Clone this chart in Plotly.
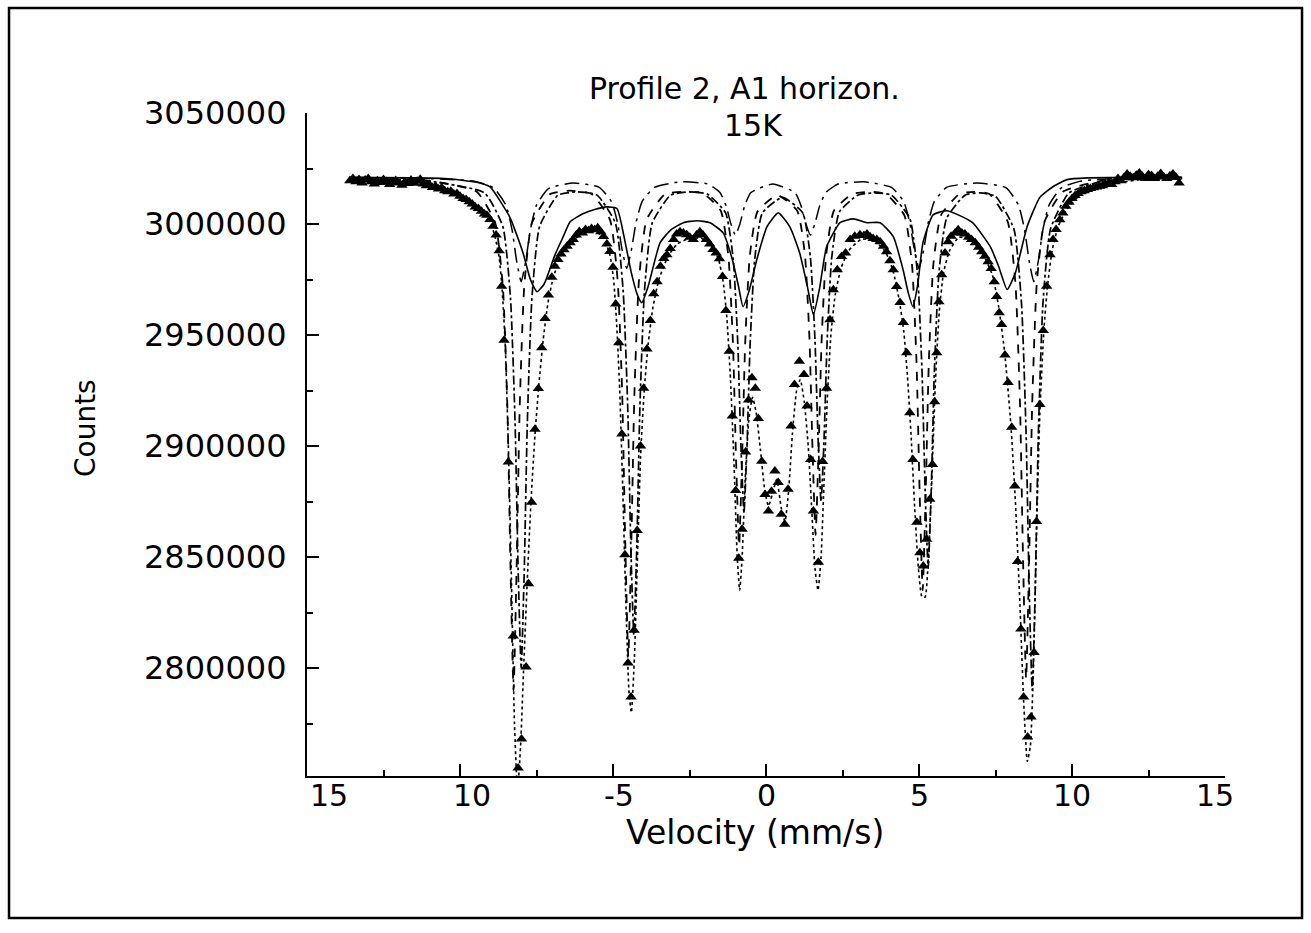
import plotly.graph_objects as go

# ---------------- measured spectrum (triangles) ----------------
velocity = [
    -13.6, -13.5, -13.4, -13.3, -13.2, -13.1, -13.0, -12.9, -12.8, -12.7,
    -12.6, -12.5, -12.4, -12.3, -12.2, -12.1, -12.0, -11.9, -11.8, -11.7,
    -11.6, -11.5, -11.4, -11.3, -11.2, -11.1, -11.0, -10.9, -10.8, -10.7,
    -10.6, -10.5, -10.4, -10.3, -10.2, -10.1, -10.0, -9.9, -9.8, -9.7,
    -9.6, -9.5, -9.4, -9.3, -9.2, -9.12, -9.02, -8.92, -8.82, -8.72,
    -8.64, -8.56, -8.42, -8.26, -8.1, -7.99, -7.84, -7.76, -7.66, -7.55,
    -7.44, -7.33, -7.22, -7.11, -7.0, -6.9, -6.8, -6.7, -6.6, -6.5,
    -6.4, -6.3, -6.2, -6.1, -6.0, -5.9, -5.8, -5.7, -5.6, -5.5,
    -5.4, -5.31, -5.2, -5.1, -5.0, -4.91, -4.81, -4.71, -4.61, -4.51,
    -4.41, -4.31, -4.21, -4.1, -4.0, -3.89, -3.78, -3.67, -3.56, -3.45,
    -3.34, -3.24, -3.13, -3.02, -2.92, -2.81, -2.7, -2.59, -2.49, -2.38,
    -2.27, -2.16, -2.06, -1.95, -1.84, -1.73, -1.63, -1.52, -1.42, -1.31,
    -1.2, -1.1, -0.99, -0.89, -0.78, -0.67, -0.57, -0.46, -0.35, -0.25,
    -0.14, -0.03, 0.08, 0.18, 0.29, 0.4, 0.5, 0.61, 0.72, 0.82,
    0.93, 1.09, 1.24, 1.34, 1.46, 1.55, 1.71, 1.85, 1.98, 2.09,
    2.2, 2.33, 2.47, 2.6, 2.75, 2.9, 3.07, 3.2, 3.3, 3.4,
    3.5, 3.62, 3.73, 3.84, 3.94, 4.05, 4.16, 4.27, 4.38, 4.49,
    4.6, 4.7, 4.8, 4.93, 5.03, 5.14, 5.25, 5.35, 5.44, 5.58,
    5.51, 5.65, 5.74, 5.85, 5.95, 6.05, 6.18, 6.28, 6.4, 6.5,
    6.62, 6.72, 6.84, 6.95, 7.05, 7.15, 7.26, 7.36, 7.46, 7.54,
    7.62, 7.7, 7.81, 7.91, 8.03, 8.13, 8.22, 8.33, 8.42, 8.55,
    8.66, 8.76, 8.84, 8.95, 9.06, 9.17, 9.28, 9.38, 9.48, 9.6,
    9.7, 9.8, 9.9, 10.0, 10.1, 10.2, 10.3, 10.4, 10.5, 10.6,
    10.7, 10.8, 10.9, 11.0, 11.1, 11.2, 11.3, 11.4, 11.5, 11.6,
    11.7, 11.8, 11.9, 12.0, 12.1, 12.2, 12.3, 12.4, 12.5, 12.6,
    12.7, 12.8, 12.9, 13.0, 13.1, 13.2, 13.3, 13.4, 13.5,
]
counts = [
    3019500, 3020500, 3019000, 3020000, 3018500, 3019800, 3020500, 3019000, 3018000, 3019500,
    3018700, 3020000, 3019200, 3017800, 3018800, 3019600, 3018500, 3017500, 3019000, 3018200,
    3019800, 3018400, 3019300, 3020200, 3018000, 3017200, 3017800, 3016500, 3017000, 3015800,
    3016300, 3015000, 3014500, 3014800, 3013500, 3013800, 3012500, 3011500, 3011000, 3010000,
    3009000, 3007700, 3007000, 3005800, 3004500, 3004000, 3002000, 2999000, 2995000, 2988000,
    2972000, 2947700, 2892800, 2814400, 2755000, 2768100, 2800500, 2838000, 2874700, 2907600,
    2925900, 2944300, 2957400, 2968000, 2976000, 2981000, 2984000, 2986500, 2988400, 2990000,
    2991600, 2993000, 2995000, 2996600, 2996000, 2997500, 2997000, 2998000, 2997400, 2998300,
    2996500, 2994400, 2991000, 2987600, 2980500, 2964000, 2946500, 2905400, 2851000, 2802300,
    2787000, 2817000, 2862000, 2900000, 2926000, 2943700, 2956500, 2968600, 2974000, 2981000,
    2984500, 2986200, 2989000, 2993000, 2995500, 2996500, 2996000, 2995200, 2994000, 2993000,
    2995000, 2996500, 2995000, 2993000, 2991000, 2988500, 2987000, 2984400, 2976400, 2961000,
    2942700, 2913500, 2880000, 2849500, 2862500, 2897300, 2920700, 2930800, 2926000, 2912400,
    2893200, 2878200, 2870700, 2879700, 2888800, 2883600, 2869300, 2864800, 2880500, 2909000,
    2927700, 2938200, 2932200, 2918000, 2894000, 2870700, 2847700, 2893000, 2926000, 2956900,
    2970400, 2979400, 2985400, 2987000, 2993000, 2994500, 2995200, 2994800, 2995500, 2994300,
    2993500, 2993000, 2992000, 2990000, 2987500, 2983500, 2979400, 2971900, 2964600, 2955600,
    2942000, 2915000, 2894000, 2865700, 2852000, 2846000, 2858000, 2876000, 2891700, 2942000,
    2920000, 2965000, 2977200, 2987000, 2992000, 2994500, 2996000, 2997400, 2996000, 2995500,
    2994000, 2993000, 2991600, 2989500, 2987500, 2985500, 2983000, 2980000, 2974000, 2967400,
    2960000, 2954700, 2941000, 2928600, 2908500, 2882000, 2848000, 2817600, 2787000, 2769000,
    2778000, 2807000, 2866000, 2918700, 2952000, 2972000, 2986200, 2993000, 2997500, 3001900,
    3005000, 3008000, 3009800, 3011500, 3012800, 3013800, 3014500, 3015000, 3015500, 3016000,
    3016300, 3016700, 3017000, 3017200, 3017800, 3018500, 3017800, 3019000, 3020500, 3019500,
    3021000, 3022500, 3021500, 3020800, 3022000, 3023000, 3021500, 3020500, 3022300, 3021800,
    3020500, 3021500, 3022800, 3021200, 3020500, 3021700, 3022500, 3021000, 3018500,
]

# ---------------- total fit (dotted) ----------------
fit_v = [-13.6, -12.5, -11.5, -11.0, -10.5, -10.0, -9.5, -9.2, -9.0, -8.85, -8.72, -8.62, -8.52,
         -8.42, -8.32, -8.22, -8.12, -8.02, -7.92, -7.8, -7.68, -7.55, -7.42, -7.28, -7.12, -6.95,
         -6.7, -6.4, -6.0, -5.6, -5.3, -5.1, -4.98, -4.88, -4.78, -4.68, -4.58, -4.48, -4.4, -4.3,
         -4.2, -4.1, -3.98, -3.85, -3.7, -3.5, -3.2, -2.9, -2.5, -2.1, -1.8, -1.55, -1.4, -1.28,
         -1.16, -1.04, -0.94, -0.86, -0.78, -0.68, -0.56, -0.44, -0.32, -0.18, -0.04, 0.08, 0.2,
         0.35, 0.5, 0.62, 0.74, 0.86, 1.0, 1.12, 1.25, 1.38, 1.5, 1.6, 1.7, 1.8, 1.9, 2.0, 2.12,
         2.26, 2.45, 2.7, 3.1, 3.5, 3.9, 4.15, 4.35, 4.5, 4.62, 4.74, 4.86, 4.98, 5.1, 5.2, 5.3,
         5.42, 5.54, 5.66, 5.8, 6.0, 6.3, 6.7, 7.1, 7.4, 7.6, 7.8, 8.0, 8.15, 8.3, 8.42, 8.54,
         8.64, 8.74, 8.84, 8.95, 9.08, 9.2, 9.35, 9.55, 9.85, 10.3, 10.8, 11.5, 12.5, 13.6]
fit_c = [3020200, 3019800, 3019000, 3018000, 3016000, 3013000, 3008500, 3004500, 3000500, 2994000,
         2985000, 2970000, 2945000, 2900000, 2840000, 2775000, 2745000, 2765000, 2800000, 2840000,
         2875000, 2905000, 2928000, 2948000, 2965000, 2976000, 2985500, 2991500, 2995500, 2997000,
         2993500, 2986000, 2975000, 2955000, 2925000, 2880000, 2830000, 2790000, 2780000, 2805000,
         2850000, 2895000, 2925000, 2946000, 2962000, 2975000, 2985500, 2991000, 2993500, 2993500,
         2990500, 2984000, 2974000, 2958000, 2930000, 2890000, 2850000, 2835000, 2850000, 2885000,
         2912000, 2922000, 2915000, 2898000, 2880000, 2873000, 2878000, 2885000, 2872000, 2866000,
         2880000, 2905000, 2925000, 2930000, 2920000, 2900000, 2870000, 2845000, 2835000, 2850000,
         2885000, 2920000, 2950000, 2968000, 2980000, 2988000, 2993000, 2993000, 2987500, 2979000,
         2966000, 2952000, 2932000, 2905000, 2872000, 2845000, 2832000, 2832000, 2848000, 2885000,
         2930000, 2960000, 2978000, 2988000, 2994000, 2993000, 2986000, 2977000, 2963000, 2942000,
         2910000, 2875000, 2828000, 2785000, 2758000, 2765000, 2800000, 2860000, 2915000, 2952000,
         2972000, 2988000, 2999000, 3007000, 3013500, 3016500, 3018500, 3020500, 3021000]

# ---------------- sharp sextet 1 (dashed) ----------------
sx1_v = [-13.6, -11.0, -9.45, -8.85, -8.6, -8.45, -8.35, -8.25, -8.15, -8.05, -7.9, -7.65, -7.05,
         -6.4, -5.7, -5.1, -4.85, -4.7, -4.6, -4.5, -4.4, -4.3, -4.15, -3.9, -3.3, -2.7, -2.08,
         -1.48, -1.23, -1.08, -0.98, -0.88, -0.78, -0.68, -0.53, -0.28, 0.37, 1.02, 1.27, 1.42,
         1.52, 1.62, 1.72, 1.82, 1.97, 2.22, 2.82, 3.4, 3.92, 4.52, 4.77, 4.92, 5.02, 5.12, 5.22,
         5.32, 5.47, 5.72, 6.32, 6.8, 7.3, 7.9, 8.15, 8.3, 8.4, 8.5, 8.6, 8.7, 8.85, 9.1, 9.7,
         11.0, 13.6]
sx1_c = [3020600, 3019500, 3014500, 3000500, 2972000, 2917000, 2845400, 2790000, 2845400, 2917000,
         2972000, 3000500, 3013500, 3015000, 3013500, 3002000, 2975000, 2923800, 2856800, 2805000,
         2856800, 2923800, 2975000, 3002000, 3013500, 3014500, 3014000, 3006000, 2985500, 2946300,
         2894800, 2855000, 2894800, 2946300, 2985500, 3005500, 3013000, 3006000, 2986500, 2948550,
         2898600, 2860000, 2898600, 2948550, 2986500, 3006000, 3013500, 3014500, 3013500, 3004000,
         2981900, 2937300, 2879600, 2835000, 2879600, 2937300, 2981900, 3004000, 3013500, 3014500,
         3013500, 3001000, 2973500, 2919300, 2849200, 2795000, 2849200, 2919300, 2973500, 3001000,
         3014500, 3019500, 3020600]

# ---------------- sharp sextet 2 (dash-dot) ----------------
sx2_v = [-13.6, -11.0, -9.2, -8.6, -8.35, -8.2, -8.1, -8.0, -7.9, -7.8, -7.65, -7.4, -6.8, -6.16,
         -5.52, -4.92, -4.67, -4.52, -4.42, -4.32, -4.22, -4.12, -3.97, -3.72, -3.12, -2.5, -1.92,
         -1.32, -1.07, -0.92, -0.82, -0.72, -0.62, -0.52, -0.37, -0.12, 0.54, 1.2, 1.45, 1.6, 1.7,
         1.8, 1.9, 2.0, 2.15, 2.4, 3.0, 3.55, 4.1, 4.7, 4.95, 5.1, 5.2, 5.3, 5.4, 5.5, 5.65, 5.9,
         6.5, 7.0, 7.5, 8.1, 8.35, 8.5, 8.6, 8.7, 8.8, 8.9, 9.05, 9.3, 9.9, 11.0, 13.6]
sx2_c = [3020600, 3019300, 3014000, 2998900, 2966600, 2910500, 2844200, 2800000, 2844200, 2910500,
         2966600, 2998900, 3013000, 3014500, 3013000, 3000400, 2970300, 2918000, 2856200, 2815000,
         2856200, 2918000, 2970300, 3000400, 3013000, 3014500, 3013500, 3005000, 2983900, 2945500,
         2900200, 2870000, 2900200, 2945500, 2983900, 3005000, 3012000, 3005000, 2985100, 2948000,
         2904200, 2875000, 2904200, 2948000, 2985100, 3005500, 3013000, 3014000, 3013000, 3002500,
         2977700, 2933000, 2880200, 2845000, 2880200, 2933000, 2977700, 3002500, 3013000, 3014000,
         3012500, 2997900, 2964200, 2905500, 2836200, 2790000, 2836200, 2905500, 2964200, 2997900,
         3014000, 3019300, 3020600]

# ---------------- weak sextet (long dash-dot) ----------------
sx3_v = [-13.6, -10.5, -9.5, -8.9, -8.5, -8.3, -8.15, -8.0, -7.85, -7.7, -7.5, -7.1, -6.3, -5.45,
         -5.05, -4.85, -4.7, -4.55, -4.4, -4.25, -4.05, -3.65, -2.8, -1.9, -1.5, -1.3, -1.15, -1.0,
         -0.85, -0.7, -0.5, 0.22, 0.95, 1.15, 1.3, 1.45, 1.6, 1.75, 1.95, 2.35, 3.2, 4.1, 4.5, 4.7,
         4.85, 5.0, 5.15, 5.3, 5.5, 5.9, 6.9, 7.85, 8.25, 8.45, 8.6, 8.75, 8.9, 9.05, 9.25, 9.65,
         10.25, 11.0, 13.6]
sx3_c = [3021000, 3020200, 3019200, 3016300, 3008500, 2997500, 2983400, 2974000, 2983400, 2997500,
         3008500, 3016000, 3018500, 3016500, 3010100, 3000500, 2988200, 2980000, 2988200, 3000500,
         3010100, 3016500, 3019000, 3018000, 3014100, 3008000, 3000200, 2995000, 3000200, 3008000,
         3014100, 3018000, 3014100, 3008000, 3000200, 2995000, 3000200, 3008000, 3014100, 3018000,
         3019000, 3016500, 3010100, 3000500, 2988200, 2980000, 2988200, 3000500, 3010100, 3016500,
         3018500, 3016300, 3008500, 2997500, 2983400, 2974000, 2983400, 2997500, 3008500, 3016300,
         3019200, 3020200, 3021000]

# ---------------- broad distribution (solid) ----------------
broad_v = [-13.6, -10.5, -9.45, -9.02, -8.37, -7.94, -7.7, -7.48, -7.25, -6.9, -6.63, -6.4, -6.0,
           -5.6, -5.2, -4.87, -4.65, -4.4, -4.2, -4.06, -3.85, -3.46, -3.1, -2.7, -2.25, -1.83,
           -1.4, -1.1, -0.9, -0.75, -0.55, -0.3, 0.03, 0.4, 0.78, 1.1, 1.35, 1.55, 1.75, 1.98,
           2.42, 2.85, 3.3, 3.73, 4.16, 4.48, 4.65, 4.8, 4.95, 5.13, 5.46, 5.9, 6.3, 6.76, 7.32,
           7.6, 7.88, 8.15, 8.53, 8.95, 9.4, 9.84, 10.5, 13.6]
broad_c = [3021000, 3020500, 3018800, 3016700, 3003000, 2987000, 2975000, 2969500, 2973000, 2986000,
           2994200, 3001000, 3004500, 3006500, 3007700, 3007000, 2995000, 2978000, 2968000, 2964600,
           2972000, 2991600, 2997500, 3000600, 3001500, 3000600, 2996000, 2984000, 2972000, 2962800,
           2970000, 2984000, 2998700, 3005000, 2998700, 2987000, 2972000, 2959200, 2971000, 2989700,
           3000600, 3002300, 3000600, 3000600, 2994300, 2979400, 2969000, 2962800, 2972000, 2991600,
           3004100, 3006000, 3004000, 3000500, 2990000, 2981000, 2970500, 2978000, 2998700, 3012000,
           3017000, 3020000, 3020800, 3021000]

# ---------------- axes ----------------
x_tick_vals = [-15, -10, -5, 0, 5, 10, 15]
x_tick_text = ["15", "10", "-5", "0", "5", "10", "15"]
x_tick_shift = [22, 12, 6, 0, 0, 0, -10]
x_minor_vals = [-12.5, -7.5, -2.5, 2.5, 7.5, 12.5]
y_tick_vals = [2800000, 2850000, 2900000, 2950000, 3000000, 3050000]
y_minor_vals = [2775000, 2825000, 2875000, 2925000, 2975000, 3025000]
y_range = [2751400, 3050000]

title_lines = ["Profile 2, A1 horizon.", "15K"]
x_title = "Velocity (mm/s)"
y_title = "Counts"

FONT = "DejaVu Sans"
fig = go.Figure()

def curve(xv, yv, dash, width=1.7):
    fig.add_trace(go.Scatter(x=xv, y=yv, mode="lines",
                             line=dict(color="black", width=width, dash=dash,
                                       shape="spline", smoothing=0.5),
                             hoverinfo="skip"))

curve(broad_v, broad_c, "solid", 1.6)
curve(sx3_v, sx3_c, "longdashdot", 1.5)
curve(sx2_v, sx2_c, "dashdot", 1.7)
curve(sx1_v, sx1_c, "dash", 1.8)
curve(fit_v, fit_c, "dot", 1.6)

fig.add_trace(go.Scatter(x=velocity, y=counts, mode="markers",
                         marker=dict(symbol="triangle-up", size=10, color="black",
                                     line=dict(width=0))))

fig.update_layout(
    width=1311, height=933,
    margin=dict(l=307, r=86, t=113, b=157),
    paper_bgcolor="white", plot_bgcolor="white",
    showlegend=False,
    font=dict(family=FONT, color="black"),
)
fig.update_xaxes(
    range=[-15, 15], tickvals=x_tick_vals, showticklabels=False,
    ticks="inside", ticklen=12, tickwidth=1.6, tickcolor="black",
    showline=True, linecolor="black", linewidth=2.2,
    showgrid=False, zeroline=False,
    minor=dict(tickvals=x_minor_vals, ticks="inside", ticklen=6,
               tickwidth=1.6, tickcolor="black", showgrid=False),
)
fig.update_yaxes(
    range=y_range, tickvals=y_tick_vals, ticktext=[str(v) for v in y_tick_vals],
    ticks="inside", ticklen=12, tickwidth=1.6, tickcolor="black",
    showline=True, linecolor="black", linewidth=2.2,
    showgrid=False, zeroline=False,
    tickfont=dict(size=32, family=FONT), ticklabelstandoff=12,
    minor=dict(tickvals=y_minor_vals, ticks="inside", ticklen=6,
               tickwidth=1.6, tickcolor="black", showgrid=False),
)

# x tick labels (placed as text just under the axis, like the reference)
for xv, txt, sh in zip(x_tick_vals, x_tick_text, x_tick_shift):
    fig.add_annotation(text=txt, xref="x", yref="paper", x=xv, y=-0.029,
                       xanchor="center", yanchor="middle", xshift=sh, showarrow=False,
                       font=dict(size=30, family=FONT))

fig.add_annotation(text=title_lines[0], xref="paper", yref="paper", x=0.4771, y=1.0377,
                   xanchor="center", yanchor="middle", showarrow=False,
                   font=dict(size=30, family=FONT))
fig.add_annotation(text=title_lines[1], xref="paper", yref="paper", x=0.4869, y=0.9819,
                   xanchor="center", yanchor="middle", showarrow=False,
                   font=dict(size=30, family=FONT))
fig.add_annotation(text=x_title, xref="paper", yref="paper", x=0.488, y=-0.0845,
                   xanchor="center", yanchor="middle", showarrow=False,
                   font=dict(size=33, family=FONT))
fig.add_annotation(text=y_title, xref="paper", yref="paper", x=-0.2407, y=0.5249,
                   xanchor="center", yanchor="middle", showarrow=False, textangle=-90,
                   font=dict(size=28, family=FONT))

fig.add_shape(type="rect", xref="paper", yref="paper",
              x0=-0.3246, x1=1.0839, y0=-0.2142, y1=1.1584,
              line=dict(color="black", width=2.5), fillcolor="rgba(0,0,0,0)")

fig.write_html("out.html")
